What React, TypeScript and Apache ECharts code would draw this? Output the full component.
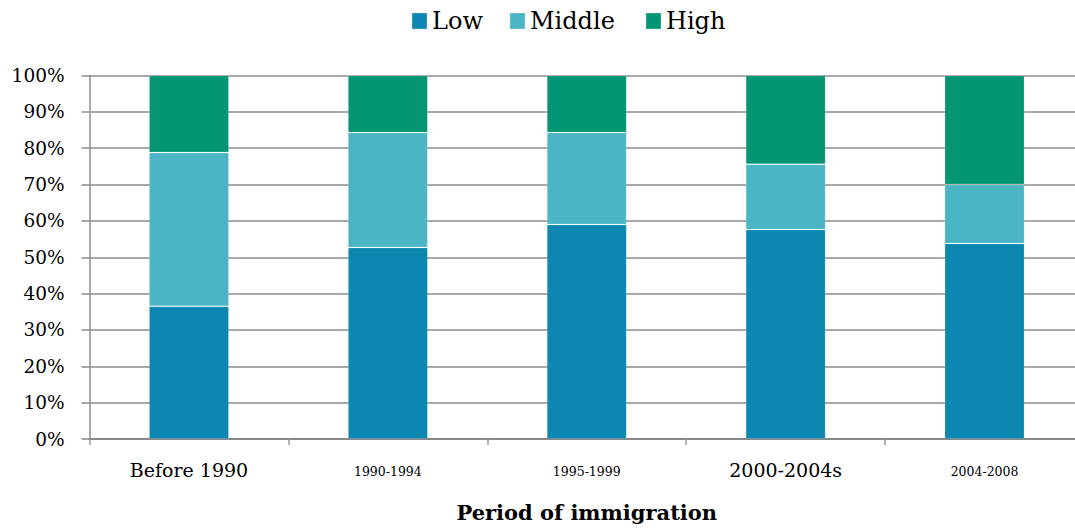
import React, { useEffect, useRef } from "react";
import * as echarts from "echarts";

const categories = ["Before 1990", "1990-1994", "1995-1999", "2000-2004s", "2004-2008"];
const categoryLabelSize = ["big", "small", "small", "big", "small"];
const lowValues = [36.5, 52.7, 59.0, 57.6, 53.8];
const middleValues = [42.3, 31.6, 25.3, 18.0, 16.2];
const highValues = [21.2, 15.7, 15.7, 24.4, 30.0];
const seriesNames = ["Low", "Middle", "High"];
const colors = ["#0b87b1", "#4bb5c5", "#039574"];
const yTicks = [0, 10, 20, 30, 40, 50, 60, 70, 80, 90, 100];

const FONT = "DejaVu Serif";

export default function App() {
  const ref = useRef<HTMLDivElement>(null);
  useEffect(() => {
    if (!ref.current) return;
    const chart = echarts.init(ref.current, null, { renderer: "svg" });
    const seriesData = [lowValues, middleValues, highValues];
    const legendLeft = [406, 504, 640];
    chart.setOption({
      animation: false,
      color: colors,
      legend: seriesNames.map((name, i) => ({
        data: [name],
        left: legendLeft[i],
        top: 4,
        itemWidth: 15,
        itemHeight: 16,
        icon: "rect",
        textStyle: { fontFamily: FONT, fontSize: 24, color: "#000", lineHeight: 16 },
      })),
      grid: { left: 89.5, top: 75.5, width: 994.5, height: 366.5, containLabel: false },
      xAxis: {
        type: "category",
        data: categories,
        boundaryGap: true,
        name: "Period of immigration",
        nameLocation: "middle",
        nameGap: 63,
        nameTextStyle: { fontFamily: FONT, fontSize: 21, fontWeight: "bold", color: "#000" },
        axisLine: { lineStyle: { color: "#878787", width: 2 } },
        axisTick: { show: true, length: 6, lineStyle: { color: "#9a9a9a", width: 1.5 } },
        axisLabel: {
          margin: 19,
          interval: 0,
          formatter: (v: string, idx: number) => `{${categoryLabelSize[idx]}|${v}}`,
          rich: {
            big: { fontFamily: FONT, fontSize: 19, color: "#000", lineHeight: 24 },
            small: { fontFamily: FONT, fontSize: 12.5, color: "#000", lineHeight: 24, padding: [3, 0, 0, 0] },
          },
        },
      },
      yAxis: {
        type: "value",
        min: yTicks[0],
        max: yTicks[yTicks.length - 1],
        interval: 10,
        axisLine: { show: true, lineStyle: { color: "#8c8c8c", width: 1.5 } },
        axisTick: { show: true, length: 8, lineStyle: { color: "#8c8c8c", width: 1.5 } },
        splitLine: { show: true, lineStyle: { color: "#8c8c8c", width: 1.5 } },
        axisLabel: {
          margin: 25,
          formatter: "{value}%",
          fontFamily: FONT,
          fontSize: 18.5,
          color: "#000",
        },
      },
      series: seriesNames.map((name, i) => ({
        name,
        type: "bar",
        stack: "total",
        barWidth: 80,
        data: seriesData[i],
        itemStyle: { color: colors[i], borderColor: "rgba(255,255,255,0.15)", borderWidth: 1 },
      })),
    });
    return () => chart.dispose();
  }, []);
  return (
    <div
      style={{ position: "fixed", left: 0, top: 0, width: 1075, height: 528, overflow: "hidden", background: "#fff" }}
    >
      <div ref={ref} style={{ width: 1090, height: 528 }} />
    </div>
  );
}
